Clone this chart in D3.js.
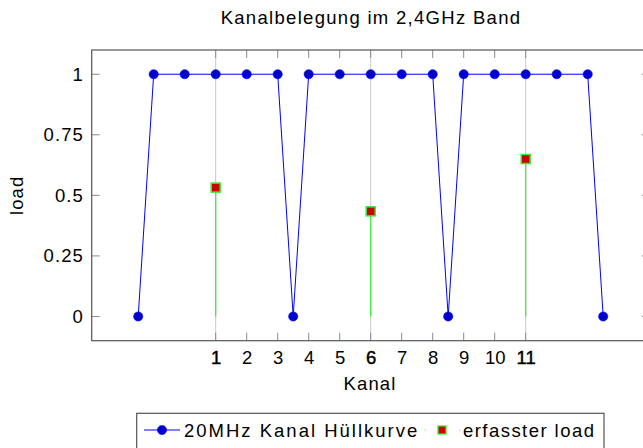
<!DOCTYPE html>
<html>
<head>
<meta charset="utf-8">
<script src="https://cdn.jsdelivr.net/npm/d3@7"></script>
<style>
  body { margin: 0; background: white; }
  svg text { font-family: "Liberation Sans", Arial, sans-serif; fill: #000; font-size: 18.5px; letter-spacing: 1.1px; }
</style>
</head>
<body>
<svg id="chart" width="643" height="448"></svg>
<script>
// envelope of the three non-overlapping 20MHz channels
var envX = [-1.5, -1, 0, 1, 2, 3, 3.5, 4, 5, 6, 7, 8, 8.5, 9, 10, 11, 12, 13, 13.5];
var envY = [0, 1, 1, 1, 1, 1, 0, 1, 1, 1, 1, 1, 0, 1, 1, 1, 1, 1, 0];

// measured load on channels 1, 6, 11
var loadX = [1, 6, 11];
var loadY = [0.532, 0.434, 0.65];

var xTicks = [1, 2, 3, 4, 5, 6, 7, 8, 9, 10, 11];
var yTicks = [0, 0.25, 0.5, 0.75, 1];
var yTickLabels = ['0', '0.25', '0.5', '0.75', '1'];
var gridX = [1, 6, 11];

var svg = d3.select('#chart');

var pLeft = 91.7, pRight = 649.7, pTop = 50, pBottom = 340.7;

var x = d3.scaleLinear().domain([-3, 15]).range([pLeft, pRight]);
var y = d3.scaleLinear().domain([-0.1, 1.1]).range([pBottom, pTop]);

// grid at the used channels
svg.append('g').selectAll('line')
    .data(gridX)
    .enter().append('line')
    .attr('x1', d => x(d)).attr('x2', d => x(d))
    .attr('y1', pTop).attr('y2', pBottom)
    .attr('stroke', '#c8c8c8')
    .attr('stroke-width', 1);

// ticks (inward, pgfplots style)
var tickG = svg.append('g').attr('stroke', '#8a8a8a').attr('stroke-width', 1);
xTicks.forEach(function(t){
    tickG.append('line').attr('x1', x(t)).attr('x2', x(t)).attr('y1', pBottom).attr('y2', pBottom - 8);
    tickG.append('line').attr('x1', x(t)).attr('x2', x(t)).attr('y1', pTop).attr('y2', pTop + 8);
});
yTicks.forEach(function(t){
    tickG.append('line').attr('x1', pLeft).attr('x2', pLeft + 8).attr('y1', y(t)).attr('y2', y(t));
    tickG.append('line').attr('x1', pRight).attr('x2', pRight - 8).attr('y1', y(t)).attr('y2', y(t));
});

// load stems
svg.append('g').selectAll('line')
    .data(loadX)
    .enter().append('line')
    .attr('x1', d => x(d)).attr('x2', d => x(d))
    .attr('y1', y(0)).attr('y2', (d, i) => y(loadY[i]))
    .attr('stroke', '#44ee44')
    .attr('stroke-width', 1.3);

// envelope line
var line = d3.line().x((d, i) => x(envX[i])).y(d => y(d));
svg.append('path')
    .datum(envY)
    .attr('d', line)
    .attr('fill', 'none')
    .attr('stroke', '#0000ff')
    .attr('stroke-width', 1);

svg.append('g').selectAll('circle')
    .data(envY)
    .enter().append('circle')
    .attr('cx', (d, i) => x(envX[i]))
    .attr('cy', d => y(d))
    .attr('r', 4.6)
    .attr('fill', '#0000cc')
    .attr('stroke', '#0000ff')
    .attr('stroke-width', 0.6);

// load markers
svg.append('g').selectAll('rect')
    .data(loadY)
    .enter().append('rect')
    .attr('x', (d, i) => x(loadX[i]) - 4.5)
    .attr('y', d => y(d) - 4.5)
    .attr('width', 9).attr('height', 9)
    .attr('fill', '#cc0000')
    .attr('stroke', '#33ee33')
    .attr('stroke-width', 1.5);

// axis box
svg.append('rect')
    .attr('x', pLeft).attr('y', pTop)
    .attr('width', pRight - pLeft).attr('height', pBottom - pTop)
    .attr('fill', 'none')
    .attr('stroke', '#555')
    .attr('stroke-width', 1.2);

// tick labels
svg.append('g').selectAll('text')
    .data(xTicks)
    .enter().append('text')
    .attr('x', d => x(d) + 0.5)
    .attr('y', 363.5)
    .attr('text-anchor', 'middle')
    .style('letter-spacing', '0px')
    .style('stroke', d => gridX.indexOf(d) >= 0 ? '#000' : 'none')
    .style('stroke-width', 0.45)
    .text(d => d);

svg.append('g').selectAll('text')
    .data(yTicks)
    .enter().append('text')
    .attr('x', 84)
    .attr('y', d => y(d) + 6.5)
    .attr('text-anchor', 'end')
    .text((d, i) => yTickLabels[i]);

// labels
svg.append('text')
    .attr('x', 371).attr('y', 24)
    .attr('text-anchor', 'middle')
    .style('letter-spacing', '1.3px')
    .text('Kanalbelegung im 2,4GHz Band');

svg.append('text')
    .attr('x', 370).attr('y', 390)
    .attr('text-anchor', 'middle')
    .text('Kanal');

svg.append('text')
    .attr('transform', 'translate(23,' + ((pTop + pBottom) / 2) + ') rotate(-90)')
    .attr('text-anchor', 'middle')
    .text('load');

// legend
var lg = svg.append('g');
lg.append('rect')
    .attr('x', 136.7).attr('y', 413.3)
    .attr('width', 467.3).attr('height', 40)
    .attr('fill', 'white')
    .attr('stroke', '#555')
    .attr('stroke-width', 1.2);

var ly = 430;
lg.append('line')
    .attr('x1', 144).attr('x2', 180)
    .attr('y1', ly).attr('y2', ly)
    .attr('stroke', '#0000ff').attr('stroke-width', 1);
lg.append('circle')
    .attr('cx', 162).attr('cy', ly).attr('r', 4.6)
    .attr('fill', '#0000cc').attr('stroke', '#0000ff').attr('stroke-width', 0.6);
lg.append('text')
    .attr('x', 184).attr('y', ly + 6.5)
    .style('letter-spacing', '2px')
    .text('20MHz Kanal Hüllkurve');

lg.append('circle').attr('cx', 425).attr('cy', ly).attr('r', 0.6).attr('fill', '#44ee44');
lg.append('circle').attr('cx', 460).attr('cy', ly).attr('r', 0.6).attr('fill', '#44ee44');
lg.append('rect')
    .attr('x', 442 - 4).attr('y', ly - 4)
    .attr('width', 8).attr('height', 8)
    .attr('fill', '#cc0000')
    .attr('stroke', '#33ee33').attr('stroke-width', 1.3);
lg.append('text')
    .attr('x', 463).attr('y', ly + 6.5)
    .style('letter-spacing', '1.45px')
    .text('erfasster load');
</script>
</body>
</html>
